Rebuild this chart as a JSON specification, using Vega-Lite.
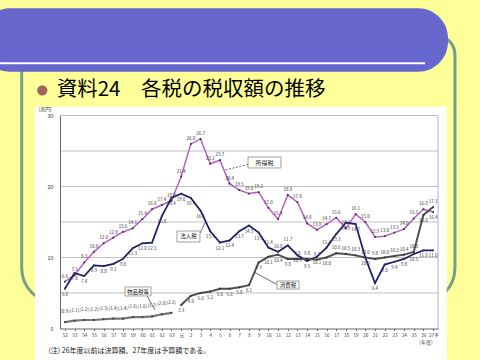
{
  "$schema": "https://vega.github.io/schema/vega-lite/v6.json",
  "width": 378,
  "height": 213,
  "autosize": {"type": "none"},
  "padding": {"left": 60, "top": 115.5, "right": 42, "bottom": 31.5},
  "background": "#ffff99",
  "config": {
    "view": {"stroke": null},
    "font": "Noto Sans CJK JP",
    "axisX": {"labelOverlap": false, "labelSeparation": 0, "tickCount": 39, "labelFontSize": 4.5, "labelAngle": 0, "labelPadding": 2, "tickSize": 2, "labelFlush": false, "labelBound": false}
  },
  "datasets": {
    "tax": [
      {"i":0,"s":"所得税","v":6.6},{"i":1,"s":"所得税","v":7.5},{"i":2,"s":"所得税","v":9.3},{"i":3,"s":"所得税","v":10.8},{"i":4,"s":"所得税","v":12.0},{"i":5,"s":"所得税","v":12.8},{"i":6,"s":"所得税","v":13.6},{"i":7,"s":"所得税","v":14.1},{"i":8,"s":"所得税","v":15.4},{"i":9,"s":"所得税","v":16.8},{"i":10,"s":"所得税","v":17.4},{"i":11,"s":"所得税","v":18.0},{"i":12,"s":"所得税","v":21.4},{"i":13,"s":"所得税","v":26.0},{"i":14,"s":"所得税","v":26.7},{"i":15,"s":"所得税","v":23.2},{"i":16,"s":"所得税","v":23.7},{"i":17,"s":"所得税","v":20.4},{"i":18,"s":"所得税","v":19.5},{"i":19,"s":"所得税","v":19.0},{"i":20,"s":"所得税","v":19.2},{"i":21,"s":"所得税","v":17.0},{"i":22,"s":"所得税","v":15.4},{"i":23,"s":"所得税","v":18.8},{"i":24,"s":"所得税","v":17.8},{"i":25,"s":"所得税","v":14.8},{"i":26,"s":"所得税","v":13.9},{"i":27,"s":"所得税","v":14.7},{"i":28,"s":"所得税","v":15.6},{"i":29,"s":"所得税","v":14.1},{"i":30,"s":"所得税","v":16.1},{"i":31,"s":"所得税","v":15.0},{"i":32,"s":"所得税","v":12.9},{"i":33,"s":"所得税","v":13.0},{"i":34,"s":"所得税","v":13.5},{"i":35,"s":"所得税","v":14.0},{"i":36,"s":"所得税","v":15.5},{"i":37,"s":"所得税","v":16.8},{"i":38,"s":"所得税","v":16.4},
      {"i":0,"s":"法人税","v":5.6},{"i":1,"s":"法人税","v":7.8},{"i":2,"s":"法人税","v":7.4},{"i":3,"s":"法人税","v":8.9},{"i":4,"s":"法人税","v":8.8},{"i":5,"s":"法人税","v":9.1},{"i":6,"s":"法人税","v":9.8},{"i":7,"s":"法人税","v":11.3},{"i":8,"s":"法人税","v":12.0},{"i":9,"s":"法人税","v":12.1},{"i":10,"s":"法人税","v":15.8},{"i":11,"s":"法人税","v":18.4},{"i":12,"s":"法人税","v":19.0},{"i":13,"s":"法人税","v":18.4},{"i":14,"s":"法人税","v":16.6},{"i":15,"s":"法人税","v":13.7},{"i":16,"s":"法人税","v":12.1},{"i":17,"s":"法人税","v":12.4},{"i":18,"s":"法人税","v":13.7},{"i":19,"s":"法人税","v":14.5},{"i":20,"s":"法人税","v":13.5},{"i":21,"s":"法人税","v":11.4},{"i":22,"s":"法人税","v":10.8},{"i":23,"s":"法人税","v":11.7},{"i":24,"s":"法人税","v":10.3},{"i":25,"s":"法人税","v":9.5},{"i":26,"s":"法人税","v":10.1},{"i":27,"s":"法人税","v":11.4},{"i":28,"s":"法人税","v":13.3},{"i":29,"s":"法人税","v":14.9},{"i":30,"s":"法人税","v":14.7},{"i":31,"s":"法人税","v":10.0},{"i":32,"s":"法人税","v":6.4},{"i":33,"s":"法人税","v":9.0},{"i":34,"s":"法人税","v":9.4},{"i":35,"s":"法人税","v":9.8},{"i":36,"s":"法人税","v":10.5},{"i":37,"s":"法人税","v":11.0},{"i":38,"s":"法人税","v":11.0},
      {"i":12,"s":"消費税","v":3.3},{"i":13,"s":"消費税","v":4.6},{"i":14,"s":"消費税","v":5.0},{"i":15,"s":"消費税","v":5.2},{"i":16,"s":"消費税","v":5.6},{"i":17,"s":"消費税","v":5.6},{"i":18,"s":"消費税","v":5.8},{"i":19,"s":"消費税","v":6.1},{"i":20,"s":"消費税","v":9.3},{"i":21,"s":"消費税","v":10.1},{"i":22,"s":"消費税","v":10.4},{"i":23,"s":"消費税","v":9.8},{"i":24,"s":"消費税","v":9.8},{"i":25,"s":"消費税","v":9.8},{"i":26,"s":"消費税","v":9.7},{"i":27,"s":"消費税","v":10.0},{"i":28,"s":"消費税","v":10.6},{"i":29,"s":"消費税","v":10.5},{"i":30,"s":"消費税","v":10.3},{"i":31,"s":"消費税","v":10.0},{"i":32,"s":"消費税","v":9.8},{"i":33,"s":"消費税","v":10.0},{"i":34,"s":"消費税","v":10.2},{"i":35,"s":"消費税","v":10.4},{"i":36,"s":"消費税","v":10.8},{"i":37,"s":"消費税","v":16.0},{"i":38,"s":"消費税","v":17.1},
      {"i":0,"s":"物品税等","v":0.9,"t":"(0.9)"},{"i":1,"s":"物品税等","v":1.1,"t":"(1.1)"},{"i":2,"s":"物品税等","v":1.2,"t":"(1.2)"},{"i":3,"s":"物品税等","v":1.2,"t":"(1.2)"},{"i":4,"s":"物品税等","v":1.3,"t":"(1.3)"},{"i":5,"s":"物品税等","v":1.4,"t":"(1.4)"},{"i":6,"s":"物品税等","v":1.4,"t":"(1.4)"},{"i":7,"s":"物品税等","v":1.6,"t":"(1.6)"},{"i":8,"s":"物品税等","v":1.6,"t":"(1.6)"},{"i":9,"s":"物品税等","v":1.7,"t":"(1.7)"},{"i":10,"s":"物品税等","v":2.0,"t":"(2.0)"},{"i":11,"s":"物品税等","v":2.2,"t":"(2.2)"}
    ],
    "grid": [{"g":5},{"g":10},{"g":15},{"g":20},{"g":25},{"g":30}]
  },
  "layer": [
    {
      "data": {"values": [{}]},
      "mark": {"type": "rect", "fill": "#ffffff", "fillOpacity": 0, "stroke": "#739e8c", "strokeWidth": 3, "cornerRadiusTopLeft": 20, "cornerRadiusTopRight": 20, "cornerRadiusBottomLeft": 35, "cornerRadiusBottomRight": 35},
      "encoding": {"x": {"datum": -4.45, "type": "quantitative"}, "x2": {"datum": 40.25}, "y": {"datum": 41.34, "type": "quantitative"}, "y2": {"datum": 3.59}}
    },
    {
      "data": {"values": [{}]},
      "mark": {"type": "rect", "fill": "#6666cc", "cornerRadius": 30},
      "encoding": {"x": {"datum": -8.75, "type": "quantitative"}, "x2": {"datum": 39.53}, "y": {"datum": 45.1, "type": "quantitative"}, "y2": {"datum": 36.17}}
    },
    {
      "data": {"values": [{}]},
      "mark": {"type": "rule", "color": "#ffffff", "strokeWidth": 2},
      "encoding": {"x": {"datum": -6.69, "type": "quantitative"}, "x2": {"datum": 37.16}, "y": {"datum": 37.35, "type": "quantitative"}}
    },
    {
      "data": {"values": [{}]},
      "mark": {"type": "point", "shape": "circle", "filled": true, "size": 105, "color": "#a0665e", "opacity": 1},
      "encoding": {"x": {"datum": -2.33, "type": "quantitative"}, "y": {"datum": 33.55, "type": "quantitative"}}
    },
    {
      "data": {"values": [{}]},
      "mark": {"type": "text", "text": "資料24　各税の税収額の推移", "align": "left", "baseline": "middle", "fontSize": 20.5, "color": "#000000"},
      "encoding": {"x": {"datum": -0.84, "type": "quantitative"}, "y": {"datum": 33.65, "type": "quantitative"}}
    },
    {
      "data": {"values": [{}]},
      "mark": {"type": "rect", "fill": "#ffffff"},
      "encoding": {"x": {"datum": -3.08, "type": "quantitative"}, "x2": {"datum": 39.4}, "y": {"datum": 31.24, "type": "quantitative"}, "y2": {"datum": -4.9}}
    },
    {
      "data": {"name": "grid"},
      "mark": {"type": "rule", "color": "#c0c0c0", "strokeWidth": 1.2},
      "encoding": {"y": {"field": "g", "type": "quantitative"}, "x": {"datum": -0.5, "type": "quantitative"}, "x2": {"datum": 38.5}}
    },
    {
      "data": {"values": [{}]},
      "mark": {"type": "rule", "color": "#c0c0c0", "strokeWidth": 1.2},
      "encoding": {"x": {"datum": 38.5, "type": "quantitative"}, "y": {"datum": 0, "type": "quantitative"}, "y2": {"datum": 30}}
    },
    {
      "data": {"name": "tax"},
      "mark": {"type": "line"},
      "encoding": {
        "x": {"field": "i", "type": "quantitative", "scale": {"domain": [-0.5, 38.5], "nice": false, "zero": false},
          "axis": {"values": [0,1,2,3,4,5,6,7,8,9,10,11,12,13,14,15,16,17,18,19,20,21,22,23,24,25,26,27,28,29,30,31,32,33,34,35,36,37,38],
            "tickCount": 39,
            "labelExpr": "['52','53','54','55','56','57','58','59','60','61','62','63','元','2','3','4','5','6','7','8','9','10','11','12','13','14','15','16','17','18','19','20','21','22','23','24','25','26','27予'][datum.value]",
            "labelFontSize": 4.5, "labelColor": "#333333", "labelAngle": 0, "labelPadding": 2, "labelOverlap": false, "labelSeparation": 0, "labelFlush": false, "labelBound": false,
            "tickSize": 2, "tickColor": "#666666", "domainColor": "#666666", "grid": false, "zindex": 1,
            "title": "(注) 26年度以前は決算額、27年度は予算額である。", "titleFontSize": 7, "titleFontWeight": "normal", "titleColor": "#222222",
            "titleAlign": "left", "titleBaseline": "middle", "titleX": -12, "titleY": 21.5}},
        "y": {"field": "v", "type": "quantitative", "scale": {"domain": [0, 30], "nice": false},
          "axis": {"values": [0,5,10,15,20,25,30], "labelFontSize": 5.5, "labelColor": "#333333", "ticks": false, "labelPadding": 7,
            "domainColor": "#666666", "grid": false, "zindex": 1,
            "title": "(兆円)", "titleAngle": 0, "titleFontSize": 5, "titleFontWeight": "normal", "titleColor": "#333333",
            "titleAlign": "left", "titleBaseline": "middle", "titleX": -22, "titleY": -7.2}},
        "color": {"field": "s", "type": "nominal", "scale": {"domain": ["所得税","法人税","消費税","物品税等"], "range": ["#b85cc8","#1c1c6c","#505050","#777777"]}, "legend": null},
        "strokeWidth": {"field": "s", "type": "nominal", "scale": {"domain": ["所得税","法人税","消費税","物品税等"], "range": [1.5, 2.2, 1.3, 1.1]}, "legend": null}
      }
    },
    {
      "data": {"name": "tax"},
      "mark": {"type": "point", "shape": "square", "filled": true, "size": 3, "color": "#333333", "opacity": 1},
      "encoding": {"x": {"field": "i", "type": "quantitative"}, "y": {"field": "v", "type": "quantitative"}}
    },
    {
      "data": {"name": "tax"},
      "transform": [{"filter": "(datum.s === '所得税' && datum.i < 38) || (datum.s === '法人税' && (datum.i === 21 || datum.i === 22 || datum.i === 23 || datum.i === 27)) || (datum.s === '消費税' && ((datum.i >= 24 && datum.i <= 36 && datum.i !== 27) || datum.i === 38))"}],
      "mark": {"type": "text", "fontSize": 4.5, "color": "#333333", "dy": -5},
      "encoding": {"x": {"field": "i", "type": "quantitative"}, "y": {"field": "v", "type": "quantitative"}, "text": {"field": "v", "type": "quantitative", "format": ".1f"}}
    },
    {
      "data": {"name": "tax"},
      "transform": [{"filter": "(datum.s === '所得税' && datum.i === 38) || (datum.s === '法人税' && !(datum.i === 21 || datum.i === 22 || datum.i === 23 || datum.i === 27)) || (datum.s === '消費税' && !((datum.i >= 24 && datum.i <= 36 && datum.i !== 27) || datum.i === 38))"}],
      "mark": {"type": "text", "fontSize": 4.5, "color": "#333333", "dy": 6},
      "encoding": {"x": {"field": "i", "type": "quantitative"}, "y": {"field": "v", "type": "quantitative"}, "text": {"field": "v", "type": "quantitative", "format": ".1f"}}
    },
    {
      "data": {"name": "tax"},
      "transform": [{"filter": "datum.s === '物品税等'"}],
      "mark": {"type": "text", "fontSize": 4.5, "color": "#333333", "dy": -10},
      "encoding": {"x": {"field": "i", "type": "quantitative"}, "y": {"field": "v", "type": "quantitative"}, "text": {"field": "t", "type": "nominal"}}
    },
    {
      "data": {"values": [{}]},
      "mark": {"type": "rule", "color": "#444444", "strokeWidth": 0.8, "strokeDash": [2, 1.5]},
      "encoding": {"x": {"datum": 18.9, "type": "quantitative"}, "y": {"datum": 23.1, "type": "quantitative"}, "x2": {"datum": 16.45}, "y2": {"datum": 22.3}}
    },
    {
      "data": {"values": [{}]},
      "mark": {"type": "rule", "color": "#444444", "strokeWidth": 0.8},
      "encoding": {"x": {"datum": 13.94, "type": "quantitative"}, "y": {"datum": 13.45, "type": "quantitative"}, "x2": {"datum": 14.53}, "y2": {"datum": 15.07}}
    },
    {
      "data": {"values": [{}]},
      "mark": {"type": "rule", "color": "#444444", "strokeWidth": 0.8},
      "encoding": {"x": {"datum": 8.48, "type": "quantitative"}, "y": {"datum": 4.58, "type": "quantitative"}, "x2": {"datum": 9.3}, "y2": {"datum": 2.6}}
    },
    {
      "data": {"values": [{}]},
      "mark": {"type": "rule", "color": "#444444", "strokeWidth": 0.8},
      "encoding": {"x": {"datum": 21.89, "type": "quantitative"}, "y": {"datum": 6.2, "type": "quantitative"}, "x2": {"datum": 19.6}, "y2": {"datum": 7.9}}
    },
    {
      "data": {"values": [{}]},
      "mark": {"type": "rect", "fill": "#ffffff", "stroke": "#888888", "strokeWidth": 0.8},
      "encoding": {"x": {"datum": 18.9, "type": "quantitative"}, "x2": {"datum": 22.3}, "y": {"datum": 22.61, "type": "quantitative"}, "y2": {"datum": 24.15}}
    },
    {
      "data": {"values": [{}]},
      "mark": {"type": "text", "text": "所得税", "fontSize": 6, "color": "#222222", "align": "center", "baseline": "middle"},
      "encoding": {"x": {"datum": 20.6, "type": "quantitative"}, "y": {"datum": 23.38, "type": "quantitative"}}
    },
    {
      "data": {"values": [{}]},
      "mark": {"type": "rect", "fill": "#ffffff", "stroke": "#888888", "strokeWidth": 0.8},
      "encoding": {"x": {"datum": 11.57, "type": "quantitative"}, "x2": {"datum": 13.94}, "y": {"datum": 12.18, "type": "quantitative"}, "y2": {"datum": 13.73}}
    },
    {
      "data": {"values": [{}]},
      "mark": {"type": "text", "text": "法人税", "fontSize": 5.5, "color": "#222222", "align": "center", "baseline": "middle"},
      "encoding": {"x": {"datum": 12.76, "type": "quantitative"}, "y": {"datum": 12.96, "type": "quantitative"}}
    },
    {
      "data": {"values": [{}]},
      "mark": {"type": "rect", "fill": "#ffffff", "stroke": "#888888", "strokeWidth": 0.8},
      "encoding": {"x": {"datum": 6.21, "type": "quantitative"}, "x2": {"datum": 8.89}, "y": {"datum": 4.58, "type": "quantitative"}, "y2": {"datum": 5.85}}
    },
    {
      "data": {"values": [{}]},
      "mark": {"type": "text", "text": "物品税等", "fontSize": 5.5, "color": "#222222", "align": "center", "baseline": "middle"},
      "encoding": {"x": {"datum": 7.55, "type": "quantitative"}, "y": {"datum": 5.21, "type": "quantitative"}}
    },
    {
      "data": {"values": [{}]},
      "mark": {"type": "rect", "fill": "#ffffff", "stroke": "#888888", "strokeWidth": 0.8},
      "encoding": {"x": {"datum": 21.89, "type": "quantitative"}, "x2": {"datum": 24.16}, "y": {"datum": 5.56, "type": "quantitative"}, "y2": {"datum": 6.69}}
    },
    {
      "data": {"values": [{}]},
      "mark": {"type": "text", "text": "消費税", "fontSize": 5.5, "color": "#222222", "align": "center", "baseline": "middle"},
      "encoding": {"x": {"datum": 23.02, "type": "quantitative"}, "y": {"datum": 6.13, "type": "quantitative"}}
    },
    {
      "data": {"values": [{}]},
      "mark": {"type": "text", "text": "(年度)", "fontSize": 5, "color": "#333333", "align": "center", "baseline": "middle"},
      "encoding": {"x": {"datum": 37.26, "type": "quantitative"}, "y": {"datum": -1.86, "type": "quantitative"}}
    }
  ]
}
